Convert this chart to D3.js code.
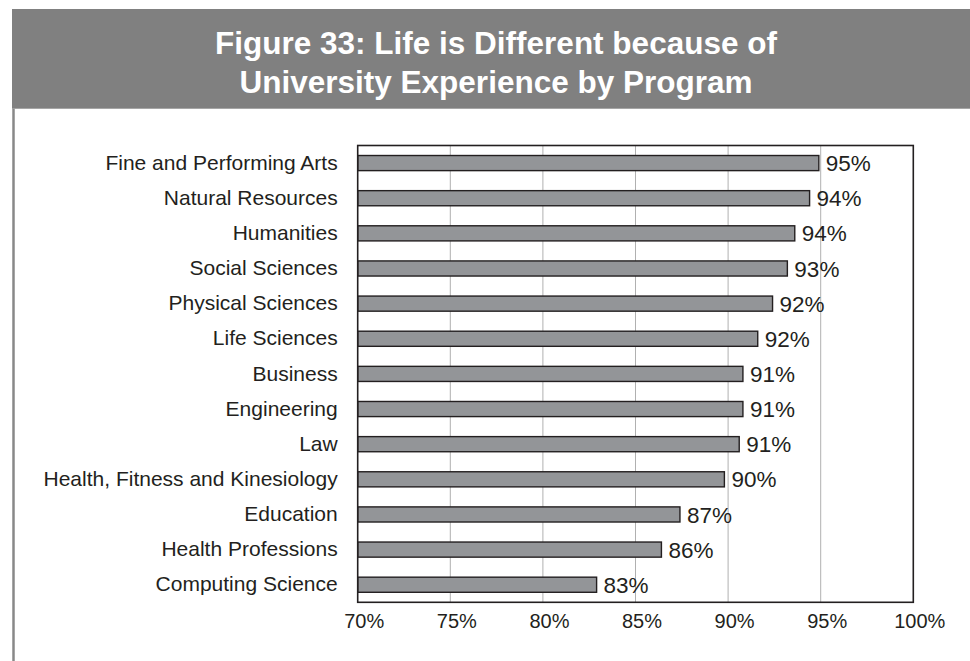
<!DOCTYPE html>
<html>
<head>
<meta charset="utf-8">
<script src="https://cdn.jsdelivr.net/npm/d3@7"></script>
<style>
  html, body { margin: 0; padding: 0; background: #fff; }
  svg { display: block; font-family: "Liberation Sans", Arial, Helvetica, sans-serif; }
</style>
</head>
<body>
<svg id="chart" width="970" height="661"></svg>
<script>
// Share of respondents saying life is different because of their university experience
const programs = [
  "Fine and Performing Arts",
  "Natural Resources",
  "Humanities",
  "Social Sciences",
  "Physical Sciences",
  "Life Sciences",
  "Business",
  "Engineering",
  "Law",
  "Health, Fitness and Kinesiology",
  "Education",
  "Health Professions",
  "Computing Science"
];
const percentages = [94.9, 94.4, 93.6, 93.2, 92.4, 91.6, 90.8, 90.8, 90.6, 89.8, 87.4, 86.4, 82.9];
const xTicks = [70, 75, 80, 85, 90, 95, 100];
const titleLines = [
  "Figure 33: Life is Different because of",
  "University Experience by Program"
];

const data = programs.map((p, i) => ({ program: p, value: percentages[i] }));

const W = 970, H = 661;
const plot = { left: 357.7, right: 913.3, top: 145.5, bottom: 602.3 };
const ink = "#231f20";

const svg = d3.select("#chart");

// Title band and frame rule down the left side
svg.append("rect")
  .attr("x", 12).attr("y", 9)
  .attr("width", W - 12).attr("height", 99.7)
  .attr("fill", "#808080");
svg.append("line")
  .attr("x1", 13.5).attr("x2", 13.5)
  .attr("y1", 108.7).attr("y2", H)
  .attr("stroke", "#888").attr("stroke-width", 2.5);

svg.append("g")
  .selectAll("text")
  .data(titleLines)
  .join("text")
  .attr("x", 496)
  .attr("y", (d, i) => 53.5 + i * 39.3)
  .attr("text-anchor", "middle")
  .attr("fill", "#fff")
  .attr("font-weight", "bold")
  .attr("font-size", 31.5)
  .text(d => d);

const x = d3.scaleLinear()
  .domain([xTicks[0], xTicks[xTicks.length - 1]])
  .range([plot.left, plot.right]);

const y = d3.scaleBand()
  .domain(programs)
  .range([plot.top, plot.bottom])
  .paddingInner(0.57)
  .paddingOuter(0.285);

// Vertical gridlines
svg.append("g")
  .selectAll("line")
  .data(xTicks.slice(1, -1))
  .join("line")
  .attr("x1", d => x(d)).attr("x2", d => x(d))
  .attr("y1", plot.top).attr("y2", plot.bottom)
  .attr("stroke", "#b0b0b0").attr("stroke-width", 1);

// Bars
svg.append("g")
  .selectAll("rect")
  .data(data)
  .join("rect")
  .attr("x", x(xTicks[0]))
  .attr("y", d => y(d.program))
  .attr("width", d => x(d.value) - x(xTicks[0]))
  .attr("height", y.bandwidth())
  .attr("fill", "#939598")
  .attr("stroke", ink)
  .attr("stroke-width", 1.4);

// Plot frame
svg.append("rect")
  .attr("x", plot.left).attr("y", plot.top)
  .attr("width", plot.right - plot.left)
  .attr("height", plot.bottom - plot.top)
  .attr("fill", "none")
  .attr("stroke", ink)
  .attr("stroke-width", 1.6);

// Value labels
const fmt = v => d3.format(".0f")(v) + "%";
svg.append("g")
  .selectAll("text")
  .data(data)
  .join("text")
  .attr("x", d => x(d.value) + 7)
  .attr("y", d => y(d.program) + y.bandwidth() / 2)
  .attr("dy", "0.36em")
  .attr("fill", ink)
  .attr("font-size", 22.5)
  .text(d => fmt(d.value));

// Category axis labels
const yAxis = d3.axisLeft(y).tickSize(0).tickPadding(20);
svg.append("g")
  .attr("transform", `translate(${plot.left},0)`)
  .call(yAxis)
  .call(g => g.select(".domain").remove())
  .call(g => g.selectAll("text")
    .attr("fill", ink)
    .attr("font-size", 21)
    .attr("font-family", "'Liberation Sans', Arial, Helvetica, sans-serif"));

// Percentage axis labels
const xAxis = d3.axisBottom(x)
  .tickValues(xTicks)
  .tickSize(0)
  .tickPadding(12)
  .tickFormat(d => d + "%");
svg.append("g")
  .attr("transform", `translate(0,${plot.bottom})`)
  .call(xAxis)
  .call(g => g.select(".domain").remove())
  .call(g => g.selectAll("text")
    .attr("fill", ink)
    .attr("font-size", 20)
    .attr("dx", 6)
    .attr("font-family", "'Liberation Sans', Arial, Helvetica, sans-serif"));
</script>
</body>
</html>
